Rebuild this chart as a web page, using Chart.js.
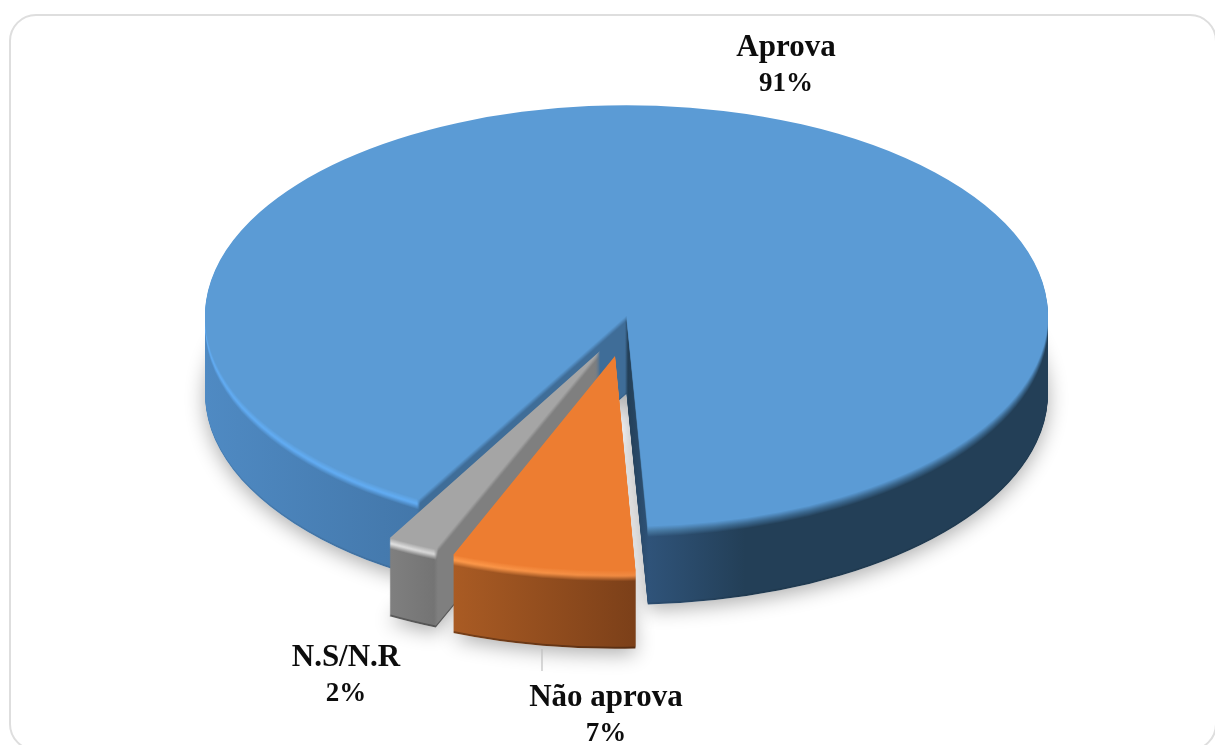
<!DOCTYPE html>
<html><head><meta charset="utf-8">
<style>html,body{margin:0;padding:0;background:#fff;overflow:hidden}canvas{display:block}</style>
<script src="https://cdn.jsdelivr.net/npm/chart.js@4"></script>
</head><body>
<canvas id="c" width="1215" height="745"></canvas>
<script>
const categories = ['Aprova', 'Não aprova', 'N.S/N.R'];
const values = [91, 7, 2];
const startAngle = 209.5;

const squash = 0.5, radius = 421.5, depth = 78, rimH = 11;
const sliceOffsets = [0, 56, 37];
const sliceColors = ['#5b9bd5', '#ed7d31', '#a5a5a5'];
const drawOrder = [0, 2, 1];
/* where each slice's tip lands on the page once the pie is tilted and pulled apart */
const sliceTips = [{x: 626.5, y: 316}, {x: 615, y: 356}, {x: 600, y: 351}];
/* side-wall shading: [page x, wall colour, rim colour] */
const wallStops = [
  [[205,'#4f8ac3','#62adf4'],[417,'#4377aa','#62adf4'],[420,'#3f6d98','#3f6d98'],[625,'#3f6d98','#3f6d98'],[628,'#233f57','#233f57'],[649,'#2f5379','#46779f'],[745,'#233f57','#3b688f'],[1048,'#233f57','#3b688f']],
  [[448,'#ab5c24','#ff9a4a'],[634,'#7c4019','#f08a42']],
  [[387,'#808080','#e4e4e4'],[434,'#747474','#d8d8d8'],[438,'#7f7f7f','#7f7f7f'],[600,'#7f7f7f','#7f7f7f']]
];
const edgeDarken = [0.92, 0.7, 0.72];
const nameFont = 'bold 31px "Liberation Serif"';
const pctFont = 'bold 27px "Liberation Serif"';
const labelPos = [
  {x: 786, y: 56, y2: 91},
  {x: 606, y: 706, y2: 741},
  {x: 346, y: 666, y2: 701}
];

function rgb(h){return [1,3,5].map(i=>parseInt(h.substr(i,2),16));}
function mix(a,b,t){const A=rgb(a),B=rgb(b);return 'rgb('+A.map((v,i)=>Math.round(v+(B[i]-v)*t)).join(',')+')';}

function wallPaint(chart, i, colorAt){
  const ctx = chart.ctx, st = wallStops[i], x0 = st[0][0], x1 = st[st.length-1][0];
  const cx = (chart.chartArea.left + chart.chartArea.right)/2;
  const shift = cx - sliceTips[i].x;
  const g = ctx.createLinearGradient(x0 + shift, 0, x1 + shift, 0);
  st.forEach(s => g.addColorStop((s[0]-x0)/(x1-x0), colorAt(s)));
  return g;
}

function layer(chart, arc, i, d, fill){
  const ctx = chart.ctx, o = arc.options;
  const cx = (chart.chartArea.left + chart.chartArea.right)/2;
  const cy = (chart.chartArea.top + chart.chartArea.bottom)/2;
  const mid = (arc.startAngle + arc.endAngle)/2;
  const dx = Math.cos(mid)*(o.offset||0)/4, dy = Math.sin(mid)*(o.offset||0)/4;
  ctx.save();
  ctx.translate(sliceTips[i].x, sliceTips[i].y + d);
  ctx.scale(1, squash);
  ctx.translate(-cx - dx, -cy - dy);
  arc.options = Object.assign({}, o, {backgroundColor: fill});
  arc.draw(ctx);
  arc.options = o;
  ctx.restore();
}

const pie3d = {
  id: 'pie3d',
  beforeDraw(chart){
    const ctx = chart.ctx;
    ctx.save();
    ctx.fillStyle = '#fff';
    ctx.fillRect(0,0,1215,745);
    ctx.strokeStyle = '#dedede';
    ctx.lineWidth = 2;
    ctx.beginPath();
    ctx.roundRect(10,15,1206,735,26);
    ctx.stroke();
    ctx.restore();
  },
  beforeDatasetDraw(chart){
    const ctx = chart.ctx, arcs = chart.getDatasetMeta(0).data;
    /* soft ground shadow first, so it never falls on the walls */
    drawOrder.forEach(i => {
      ctx.save();
      ctx.shadowColor = 'rgba(0,0,0,0.32)';
      ctx.shadowBlur = 20;
      ctx.shadowOffsetY = 5;
      layer(chart, arcs[i], i, depth, '#ffffff');
      ctx.restore();
    });
    drawOrder.forEach(i => {
      const arc = arcs[i], top = sliceColors[i];
      for (let d = depth; d >= 1; d--) {
        let colorAt;
        if (d > depth-2) colorAt = s => mix(s[1],'#000000',1-edgeDarken[i]);
        else if (d > rimH) colorAt = s => s[1];
        else {
          const t = d/rimH;
          colorAt = s => t > 0.5 ? mix(s[2], s[1], (t-0.5)*2) : mix(top, s[2], t*2);
        }
        layer(chart, arc, i, d, wallPaint(chart, i, colorAt));
      }
      layer(chart, arc, i, 0, top);
    });
    return false;
  },
  afterDraw(chart){
    const ctx = chart.ctx;
    ctx.save();
    ctx.strokeStyle = '#bfbfbf';
    ctx.lineWidth = 1.2;
    ctx.beginPath(); ctx.moveTo(542,649); ctx.lineTo(542,671); ctx.stroke();
    ctx.fillStyle = '#0d0d0d';
    ctx.textAlign = 'center';
    categories.forEach((name,i) => {
      ctx.font = nameFont;
      ctx.fillText(name, labelPos[i].x, labelPos[i].y);
      ctx.font = pctFont;
      ctx.fillText(values[i]+'%', labelPos[i].x, labelPos[i].y2);
    });
    ctx.restore();
  }
};

new Chart(document.getElementById('c'), {
  type: 'pie',
  data: {labels: categories, datasets: [{
    data: values,
    backgroundColor: sliceColors,
    borderWidth: 0,
    offset: sliceOffsets,
    radius: radius
  }]},
  options: {
    responsive: false,
    animation: false,
    events: [],
    rotation: startAngle,
    radius: radius,
    layout: {padding: 0},
    plugins: {legend: {display: false}, tooltip: {enabled: false}}
  },
  plugins: [pie3d]
});
</script>
</body></html>
